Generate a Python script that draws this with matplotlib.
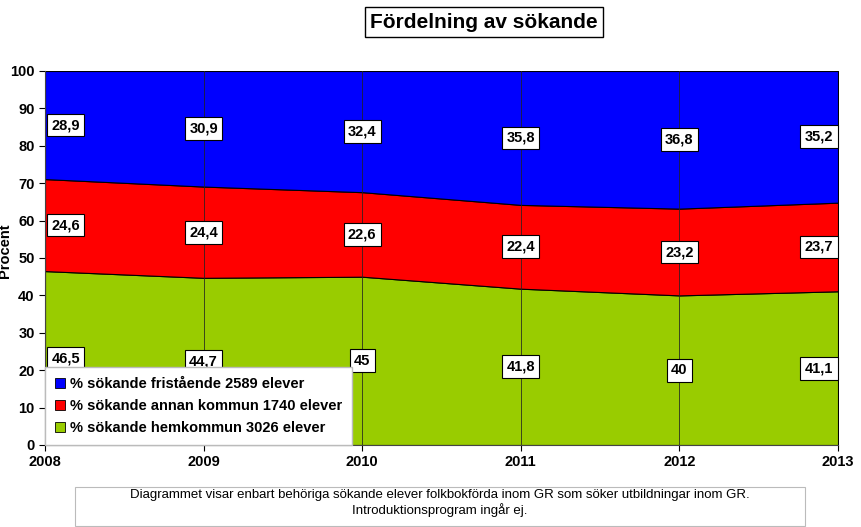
import matplotlib
matplotlib.use("Agg")
import matplotlib.pyplot as plt
import numpy as np

years = [2008, 2009, 2010, 2011, 2012, 2013]
hemkommun = [46.5, 44.7, 45.0, 41.8, 40.0, 41.1]
annan = [24.6, 24.4, 22.6, 22.4, 23.2, 23.7]
fristaende = [28.9, 30.9, 32.4, 35.8, 36.8, 35.2]
series_labels = ["% sökande fristående 2589 elever",
                 "% sökande annan kommun 1740 elever",
                 "% sökande hemkommun 3026 elever"]
colors = ["#0000FF", "#FF0000", "#99CC00"]
title = "Fördelning av sökande"
ylabel = "Procent"
footer = ("Diagrammet visar enbart behöriga sökande elever folkbokförda inom GR som söker utbildningar inom GR.\n"
          "Introduktionsprogram ingår ej.")

plt.rcParams['font.family'] = ['Liberation Sans', 'DejaVu Sans']

fig = plt.figure(figsize=(8.61, 5.27), dpi=100)
ax = fig.add_axes([45/861, 1-445/527, (838-45)/861, (445-71)/527])

x = np.array(years)
g = np.array(hemkommun)
r = np.array(annan)
b = np.array(fristaende)
ax.stackplot(x, g, r, b, colors=[colors[2], colors[1], colors[0]],
             edgecolor='black', linewidth=0.8)
ax.set_xlim(2008, 2013)
ax.set_ylim(0, 100)
ax.set_yticks(range(0, 101, 10))
ax.set_xticks(years)
for yr in years[1:-1]:
    ax.axvline(yr, color='#222222', linewidth=0.7, alpha=0.8)
ax.tick_params(axis='both', labelsize=10.5, length=4)
for lab in ax.get_xticklabels() + ax.get_yticklabels():
    lab.set_fontweight('bold')
for s in ['top', 'right']:
    ax.spines[s].set_visible(False)
ax.spines['left'].set_color('#444444')
ax.spines['bottom'].set_color('#444444')
ax.set_ylabel(ylabel, fontsize=10.5, fontweight='bold')
ax.yaxis.set_label_coords(-0.041, 0.52)

bbox = dict(boxstyle='square,pad=0.3', fc='white', ec='black', lw=0.8)
def fmt(v):
    return ('%g' % v).replace('.', ',')
for i, yr in enumerate(years):
    dx = 0.13 if i == 0 else (-0.12 if i == len(years) - 1 else 0)
    mids = [g[i] / 2, g[i] + r[i] / 2, g[i] + r[i] + b[i] / 2]
    vals = [g[i], r[i], b[i]]
    for m, v in zip(mids, vals):
        ax.text(yr + dx, m, fmt(v), ha='center', va='center', fontsize=10.5,
                fontweight='bold', bbox=bbox, zorder=5)

handles = [plt.Rectangle((0, 0), 1, 1, fc=c, ec='black', lw=0.6) for c in colors]
leg = ax.legend(handles, series_labels, loc='lower left', bbox_to_anchor=(0.0, 0.0),
                borderaxespad=0.0,
                prop={'weight': 'bold', 'size': 10.5}, frameon=True, fancybox=False,
                handlelength=0.7, handleheight=0.7, handletextpad=0.3,
                labelspacing=0.55, borderpad=0.7, shadow=False)
leg.get_frame().set_edgecolor('#bbbbbb')
leg.get_frame().set_facecolor('white')
leg.get_frame().set_alpha(1)
leg.set_zorder(10)

fig.text(484/861, 1-22/527, title, ha='center', va='center', fontsize=15, fontweight='bold',
         bbox=dict(boxstyle='square,pad=0.25', fc='white', ec='black', lw=1.0))
fig.text(440/861, 1-503/527, footer, ha='center', va='center', fontsize=9.5, linespacing=1.1)
fig.patches.append(plt.Rectangle((75/861, 1/527), (805-75)/861, (527-487-1)/527,
                                 transform=fig.transFigure, fill=False, ec='#bbbbbb', lw=0.8))

fig.savefig("out.png", dpi=100)
